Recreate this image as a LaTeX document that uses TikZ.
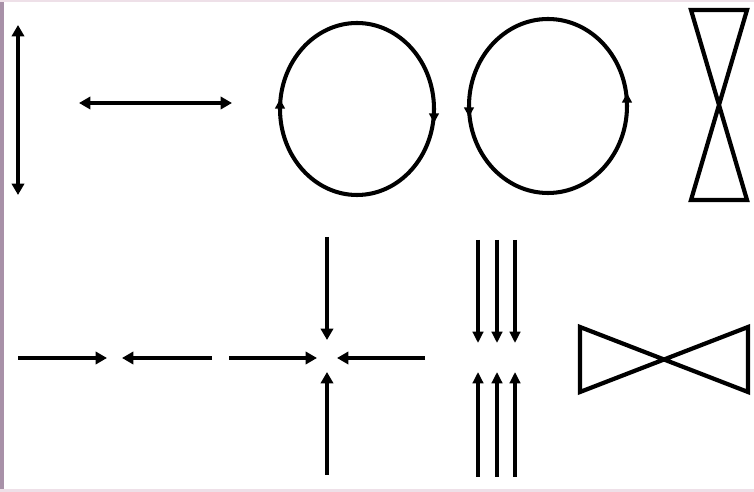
\documentclass[tikz,border=0pt]{standalone}
\usetikzlibrary{arrows.meta}
\definecolor{framemauve}{RGB}{168,145,168}
\definecolor{framepink}{RGB}{238,224,232}

\begin{document}
\begin{tikzpicture}[x=0.02cm, y=-0.02cm, line width=2.3pt,
    vec/.style={-{Triangle[length=6.5pt,width=7pt]}},
    dvec/.style={{Triangle[length=6.5pt,width=7pt]}-{Triangle[length=6.5pt,width=7pt]}},
    thinvec/.style={line width=1.9pt, -{Triangle[length=6.5pt,width=6pt]}},
    orbit/.style={line width=2.3pt},
    spin/.style={line width=1.5pt, -{Triangle[length=5.5pt,width=5.5pt]}},
    cone/.style={line width=2.4pt, line join=miter}]
  % page and frame
  \fill[white] (0,0) rectangle (754,492);
  \useasboundingbox (0,0) rectangle (754,492);
  \fill[framemauve] (0,0) rectangle (4,492);
  \fill[framepink] (0,0) rectangle (754,2);
  \fill[framepink] (0,489) rectangle (754,492);

  % top row: double arrows
  \draw[dvec] (18,25) -- (18,195);
  \draw[dvec] (79,103) -- (232,103);

  % top row: closed orbits
  \draw[orbit] (357,109) ellipse [x radius=77, y radius=86];
  \draw[spin] (280,113) -- (280,99);
  \draw[spin] (434,109) -- (434,123);
  \draw[orbit] (548,106) ellipse [x radius=79, y radius=87];
  \draw[spin] (469,103) -- (469,117);
  \draw[spin] (627,107) -- (627,93);

  % top row: hourglass
  \draw[cone] (691,10) -- (747,10) -- (691,200) -- (747,200) -- cycle;

  % bottom row: opposing arrows
  \draw[vec] (18,358) -- (107,358);
  \draw[vec] (212,358) -- (122,358);

  % bottom row: cross of arrows
  \draw[vec] (229,358) -- (317,358);
  \draw[vec] (425,358) -- (337,358);
  \draw[vec] (327,237) -- (327,340);
  \draw[vec] (327,475) -- (327,372);

  % bottom row: parallel arrows
  \foreach \x in {478,497,515} {
    \draw[thinvec] (\x,240) -- (\x,343);
    \draw[thinvec] (\x,477) -- (\x,372);
  }

  % bottom row: bow tie
  \draw[cone] (580,327) -- (580,392) -- (748,327) -- (748,392) -- cycle;
\end{tikzpicture}
\end{document}
